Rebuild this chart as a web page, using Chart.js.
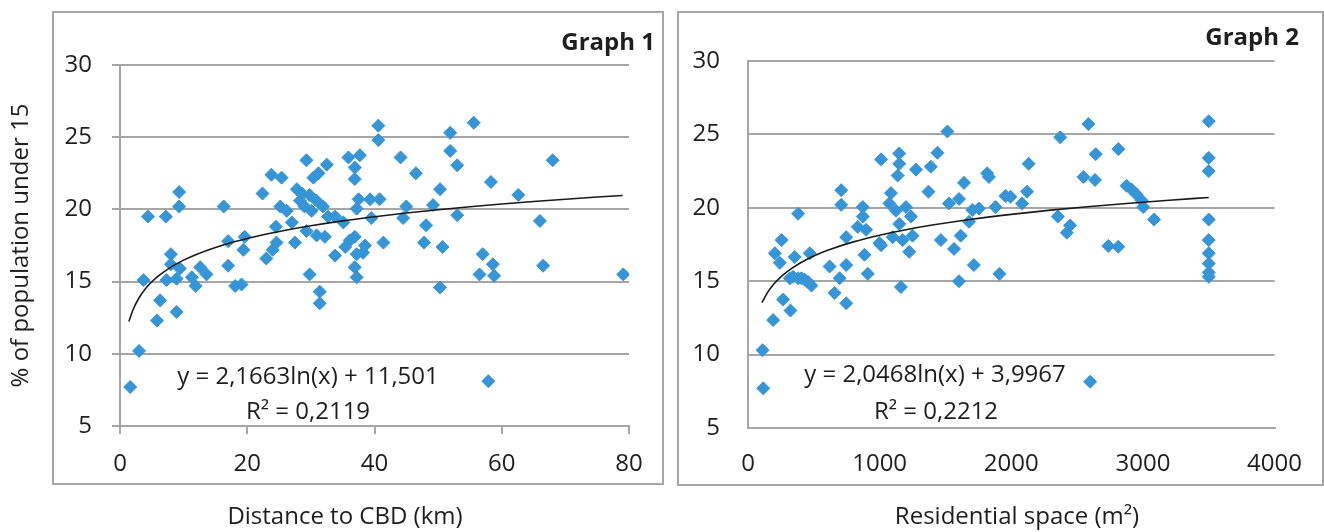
<!DOCTYPE html>
<html lang="en">

<head>
	<meta charset="utf-8">
	<title>Population under 15 - Graph 1 and Graph 2</title>
	<script src="https://cdn.jsdelivr.net/npm/chart.js@4.4.1/dist/chart.umd.min.js"></script>
	<style>
		html,
		body {
			margin: 0;
			background: #fff;
		}

		.box {
			position: absolute;
			top: 0;
			height: 532px;
		}

		#leftBox {
			left: 0;
			width: 665px;
		}

		#rightBox {
			left: 665px;
			width: 659px;
		}
	</style>
</head>

<body>
	<div class="box" id="leftBox"><canvas id="graph1"></canvas></div>
	<div class="box" id="rightBox"><canvas id="graph2"></canvas></div>

	<script>
		// Graph 1 : distance to CBD (km) vs % of population under 15
		const distanceKm = [1.6, 3.0, 4.4, 3.7, 7.2, 9.3, 9.3, 6.3, 5.8, 8.9, 8.0, 8.0, 7.3, 8.9, 9.4, 11.3, 11.9, 12.6, 13.6,
			16.3, 17.0, 17.0, 18.1, 19.1, 19.6, 19.4, 22.4, 23.8, 25.4, 23.0, 24.0, 24.6, 24.5, 25.2, 26.2, 27.5, 27.0,
			27.8, 28.6, 29.3, 29.8, 30.1, 30.4, 31.2, 32.5, 29.3, 30.9, 32.2, 31.9, 29.8, 31.4, 31.4, 33.8, 33.8, 35.1,
			35.9, 36.9, 36.9, 37.7, 36.1, 36.9, 37.2, 36.9, 37.2, 38.2, 37.2, 37.5, 39.3, 40.6, 40.6, 39.5, 40.8, 45.0,
			49.2, 44.5, 53.0, 48.1, 66.0, 41.4, 47.8, 50.7, 57.0, 58.6, 66.5, 56.5, 58.8, 79.1, 50.3, 57.9, 51.9, 55.6,
			51.9, 44.1, 53.0, 46.5, 68.0, 58.3, 50.3, 62.6, 35.4, 38.5, 28.3, 29.0, 30.9, 32.7];
		const under15A = [7.7, 10.2, 19.5, 15.1, 19.5, 21.2, 20.2, 13.7, 12.3, 12.9, 16.9, 16.2, 15.1, 15.2, 15.9, 15.3, 14.7, 16.0, 15.5,
			20.2, 17.8, 16.1, 14.7, 14.8, 18.1, 17.2, 21.1, 22.4, 22.2, 16.6, 17.2, 17.7, 18.8, 20.2, 19.9, 17.7, 19.1,
			21.4, 21.1, 23.4, 21.0, 19.9, 22.2, 22.5, 23.1, 18.5, 18.2, 18.1, 20.2, 15.5, 14.3, 13.5, 16.8, 19.5, 19.1,
			23.6, 22.9, 22.1, 23.75, 17.85, 18.1, 16.9, 16.0, 15.3, 17.0, 20.05, 20.7, 20.7, 24.8, 25.8, 19.4, 20.7, 20.2,
			20.3, 19.4, 19.6, 18.9, 19.2, 17.7, 17.7, 17.4, 16.9, 16.2, 16.1, 15.5, 15.4, 15.5, 14.6, 8.1, 25.3, 26.0,
			24.05, 23.6, 23.05, 22.5, 23.4, 21.9, 21.4, 21.0, 17.4, 17.5, 20.6, 20.2, 20.6, 19.5];

		// Graph 2 : residential space (m2) vs % of population under 15
		const spaceM2 = [116, 111, 191, 267, 323, 381, 255, 204, 242, 355, 469, 318, 381, 431, 482, 620, 696, 658, 746, 746,
			708, 708, 746, 872, 872, 834, 897, 885, 910, 998, 1011, 1149, 1149, 1137, 1276, 1389, 1439, 1515, 1371, 1086,
			1074, 1124, 1200, 1238, 1149, 1099, 1175, 1250, 1225, 1011, 1162, 1465, 1565, 1616, 1527, 1603, 1641, 1716,
			1603, 1704, 1754, 1679, 1817, 1830, 1880, 1956, 1910, 1994, 2132, 2120, 2082, 2372, 2586, 2641, 2813, 2548,
			2636, 2876, 2914, 2952, 2990, 3002, 3085, 2354, 2447, 2422, 2737, 2813, 2599, 3500, 3500, 3500, 3500, 3500,
			3500, 3500, 3500, 3500, 343, 406, 456];
		const under15B = [7.7, 10.3, 12.35, 13.75, 13.0, 19.6, 17.8, 16.9, 16.25, 16.65, 16.9, 15.2, 15.2, 15.1, 14.7, 16.0, 15.2, 14.2, 13.5, 16.1,
			21.2, 20.2, 18.0, 20.05, 19.4, 18.7, 18.5, 16.8, 15.5, 17.6, 23.3, 23.7, 23.0, 22.2, 22.6, 22.8, 23.75, 25.2, 21.1, 21.0,
			20.3, 19.8, 20.05, 19.4, 18.9, 18.0, 17.8, 18.1, 17.0, 17.45, 14.6, 17.8, 17.2, 18.1, 20.3, 20.6, 21.7, 16.1,
			15.0, 19.85, 19.95, 19.05, 22.35, 22.1, 20.05, 20.8, 15.5, 20.75, 23.0, 21.1, 20.3, 24.8, 25.7, 23.65, 24.0, 22.1,
			21.9, 21.5, 21.25, 20.9, 20.5, 20.05, 19.2, 19.4, 18.8, 18.3, 17.4, 17.35, 8.15, 25.9, 23.4, 22.5, 19.2, 17.8,
			16.9, 16.2, 15.6, 15.3, 15.3, 15.2, 14.95];

		// logarithmic trendlines as printed on the charts
		const trendA = { a: 2.1663, b: 11.501 };
		const trendB = { a: 2.0468, b: 3.9967 };
		const trendXA = [1.4, 2, 3, 4, 5, 6, 8, 10, 12, 15, 18, 22, 26, 30, 35, 40, 45, 50, 55, 60, 65, 70, 75, 79];
		const trendXB = [106, 150, 200, 250, 300, 400, 500, 600, 800, 1000, 1200, 1400, 1700, 2000, 2300, 2600, 2900, 3200, 3500];

		const yTicks = [5, 10, 15, 20, 25, 30];
		const xTicksA = [0, 20, 40, 60, 80];
		const xTicksB = [0, 1000, 2000, 3000, 4000];

		const FONT = "'Open Sans', sans-serif";
		const TEXT = '#1e1e1e';
		const GRID = '#a6a6a6';
		const BLUE = '#3595d6';

		function pairs(xs, ys) {
			return xs.map((x, i) => ({ x: x, y: ys[i] }))
		}

		function trend(xs, t) {
			return xs.map(x => ({ x: x, y: t.a * Math.log(x) + t.b }))
		}

		// frame round each graph plus the extra texts (title, axis title, equation)
		const frameText = {
			id: 'frameText',
			beforeDraw(chart, args, opts) {
				const ctx = chart.ctx
				ctx.save()
				ctx.strokeStyle = GRID
				ctx.lineWidth = 2
				ctx.strokeRect(opts.frame[0], opts.frame[1], opts.frame[2], opts.frame[3])
				ctx.restore()
			},
			afterDraw(chart, args, opts) {
				const ctx = chart.ctx
				ctx.save()
				ctx.fillStyle = TEXT
				ctx.textBaseline = 'middle'
				for (const t of opts.texts) {
					ctx.font = t.font
					ctx.textAlign = t.align
					ctx.fillText(t.text, t.x, t.y)
				}
				ctx.restore()
			}
		}

		function makeGraph(id, cfg) {
			return new Chart(id, {
				type: 'scatter',
				data: {
					datasets: [
						{
							type: 'line',
							data: trend(cfg.trendX, cfg.trend),
							borderColor: '#1a1a1a',
							borderWidth: 1.6,
							pointRadius: 0,
							cubicInterpolationMode: 'monotone',
							fill: false
						},
						{
							data: pairs(cfg.xs, cfg.ys),
							pointStyle: 'rectRot',
							pointRadius: 6.5,
							pointBorderWidth: 1,
							backgroundColor: BLUE,
							borderColor: BLUE
						}
					]
				},
				options: {
					responsive: true,
					maintainAspectRatio: false,
					animation: false,
					layout: { padding: cfg.padding },
					plugins: {
						legend: { display: false },
						tooltip: { enabled: false },
						frameText: { frame: cfg.frame, texts: cfg.texts }
					},
					scales: {
						x: {
							type: 'linear',
							min: cfg.xTicks[0],
							max: cfg.xTicks[cfg.xTicks.length - 1],
							afterBuildTicks: s => { s.ticks = cfg.xTicks.map(v => ({ value: v })) },
							afterFit: s => { s.height = cfg.xHeight },
							grid: { drawOnChartArea: false, drawTicks: cfg.ticks, tickLength: 8, color: GRID, lineWidth: 2 },
							border: { color: GRID, width: 2 },
							ticks: {
								color: TEXT, font: { family: FONT, size: 24 }, padding: cfg.xPad, maxRotation: 0,
								callback: v => String(v)
							}
						},
						y: {
							min: 5,
							max: 30,
							afterBuildTicks: s => { s.ticks = yTicks.map(v => ({ value: v })) },
							afterFit: s => { s.width = cfg.yWidth },
							grid: { drawTicks: cfg.ticks, tickLength: 8, color: GRID, lineWidth: 2 },
							border: { color: GRID, width: 2 },
							ticks: { color: TEXT, font: { family: FONT, size: 24 }, padding: cfg.yPad },
							title: {
								display: cfg.yTitle !== '', text: cfg.yTitle, color: TEXT,
								font: { family: FONT, size: 24 }, padding: { top: 7, bottom: 0 }
							}
						}
					}
				},
				plugins: [frameText]
			})
		}

		const normal24 = "24px 'Open Sans', sans-serif"
		const bold24 = "bold 24px 'Open Sans', sans-serif"

		makeGraph('graph1', {
			xs: distanceKm, ys: under15A, trend: trendA, trendX: trendXA, xTicks: xTicksA,
			yTitle: '% of population under 15',
			padding: { top: 65, right: 36, bottom: 0, left: 0 },
			yWidth: 120, xHeight: 106, ticks: true, xPad: 16, yPad: 20,
			frame: [53, 12, 610, 472],
			texts: [
				{ text: 'Graph 1', x: 655, y: 43, align: 'right', font: bold24 },
				{ text: 'y = 2,1663ln(x) + 11,501', x: 308, y: 377, align: 'center', font: normal24 },
				{ text: 'R² = 0,2119', x: 308, y: 412, align: 'center', font: normal24 },
				{ text: 'Distance to CBD (km)', x: 345, y: 517, align: 'center', font: normal24 }
			]
		})

		makeGraph('graph2', {
			xs: spaceM2, ys: under15B, trend: trendB, trendX: trendXB, xTicks: xTicksB,
			yTitle: '',
			padding: { top: 61, right: 47, bottom: 0, left: 0 },
			yWidth: 83, xHeight: 104, ticks: false, xPad: 22, yPad: 28,
			frame: [13, 12, 645, 473],
			texts: [
				{ text: 'Graph 2', x: 634, y: 38, align: 'right', font: bold24 },
				{ text: 'y = 2,0468ln(x) + 3,9967', x: 270, y: 375, align: 'center', font: normal24 },
				{ text: 'R² = 0,2212', x: 271, y: 412, align: 'center', font: normal24 },
				{ text: 'Residential space (m²)', x: 352, y: 517, align: 'center', font: normal24 }
			]
		})
	</script>
</body>

</html>
